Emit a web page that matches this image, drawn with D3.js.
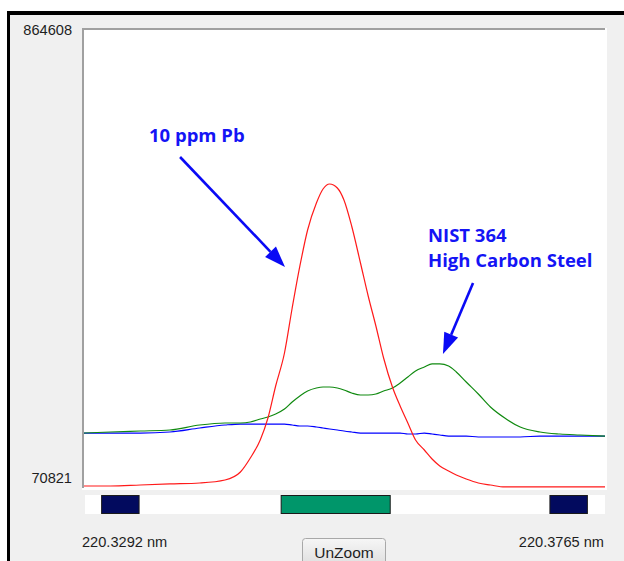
<!DOCTYPE html>
<html>
<head>
<meta charset="utf-8">
<script src="https://cdn.jsdelivr.net/npm/d3@7"></script>
<style>
    body { margin: 0; background: #ffffff; }
    svg { display: block; }
    .ui { font-family: "Liberation Sans", Arial, sans-serif; font-size: 14.6px; fill: #1e1e1e; }
    .note { font-family: "Open Sans", sans-serif; font-weight: bold; font-size: 18.5px; fill: #1414f5; }
</style>
</head>
<body>
<div id="container"></div>
<script>
// longitudes de onda (nm) y tres espectros
const wavelength = [220.3292, 220.3316, 220.3343, 220.3370, 220.3397, 220.3420, 220.3434, 220.3443,
    220.3452, 220.3459, 220.3466, 220.3474, 220.3481, 220.3488, 220.3495, 220.3503, 220.3509, 220.3515,
    220.3522, 220.3528, 220.3535, 220.3543, 220.3550, 220.3557, 220.3564, 220.3572, 220.3579, 220.3586,
    220.3593, 220.3601, 220.3608, 220.3615, 220.3623, 220.3630, 220.3639, 220.3650, 220.3661, 220.3674,
    220.3688, 220.3706, 220.3724, 220.3742, 220.3765];

const pb10ppm = [74300, 74300, 76000, 77800, 79500, 84700, 98500, 122800, 154000, 192100, 247600,
    304800, 382800, 455600, 518000, 564800, 589000, 597700, 590800, 570000, 524900, 460800, 403600,
    351600, 296100, 245900, 212900, 183500, 154000, 136700, 121100, 109000, 100300, 93400, 86400,
    79500, 76000, 72600, 72600, 72600, 72600, 72600, 72600];

const nist364 = [166100, 167900, 169600, 171300, 180000, 183500, 183500, 185200, 190400, 193900,
    199100, 207700, 219900, 230300, 238900, 244100, 245900, 245900, 244100, 240700, 235500, 232000,
    232000, 233700, 238900, 244100, 252800, 263200, 273600, 280500, 286000, 286000, 282300, 271900,
    254500, 233700, 211200, 192100, 176500, 167900, 164400, 162700, 160900];

const blank = [166100, 166100, 166100, 167900, 174800, 180000, 181700, 181700, 181700, 181700,
    181700, 181700, 180000, 178300, 178300, 176500, 174800, 173100, 171300, 169600, 167900, 166100,
    166100, 166100, 166100, 166100, 166100, 164400, 164400, 166100, 164400, 162700, 160900, 160900,
    160900, 159200, 159200, 159200, 159200, 160900, 160900, 160900, 160900];

const yMin = 70821, yMax = 864608;
const xMin = 220.3292, xMax = 220.3765;

// ventanas de fondo y de pico (nm)
const windowStart = [220.3308, 220.3471, 220.3715];
const windowEnd = [220.3342, 220.3570, 220.3749];
const windowKind = ["bg", "peak", "bg"];

const WIDTH = 624, HEIGHT = 561;
const plot = { left: 84, right: 605, top: 30, bottom: 488 };

const svg = d3.select('#container')
    .append('svg')
    .attr("width", WIDTH)
    .attr("height", HEIGHT);

// marco de la ventana
svg.append("rect").attr("x", 10).attr("y", 15).attr("width", WIDTH - 10).attr("height", HEIGHT - 15)
    .attr("fill", "#f0f0f0");
svg.append("rect").attr("x", 7).attr("y", 11).attr("width", WIDTH - 7).attr("height", 4).attr("fill", "#000");
svg.append("rect").attr("x", 7).attr("y", 11).attr("width", 3).attr("height", HEIGHT - 11).attr("fill", "#000");

// borde hundido del grafico
svg.append("rect").attr("x", plot.left - 2).attr("y", plot.top - 2)
    .attr("width", plot.right - plot.left + 4).attr("height", plot.bottom - plot.top + 4)
    .attr("fill", "#ffffff");
svg.append("rect").attr("x", plot.left - 2).attr("y", plot.top - 2)
    .attr("width", plot.right - plot.left + 2).attr("height", plot.bottom - plot.top + 2)
    .attr("fill", "#a0a0a0");
svg.append("rect").attr("x", plot.left).attr("y", plot.top)
    .attr("width", plot.right - plot.left).attr("height", plot.bottom - plot.top)
    .attr("fill", "#ffffff");

const xScale = d3.scaleLinear()
    .domain([xMin, xMax])
    .range([plot.left, plot.right]);

const yScale = d3.scaleLinear()
    .domain([yMin, yMax])
    .range([plot.bottom, plot.top]);

const container = svg.append("g");

const series = [
    { values: blank, color: "#0000ff" },
    { values: nist364, color: "#108a10" },
    { values: pb10ppm, color: "#ff1a1a" }
];

const line = d3.line()
    .x((d) => xScale(d[0]))
    .y((d) => yScale(d[1]))
    .curve(d3.curveMonotoneX);

container.selectAll(".line")
    .data(series)
    .join("path")
    .attr("class", "line")
    .attr("fill", "none")
    .attr("stroke", (d) => d.color)
    .attr("stroke-width", 1.2)
    .attr("d", (d) => line(wavelength.map((w, i) => [w, d.values[i]])));

// barra de ventanas
svg.append("rect")
    .attr("x", xScale(xMin) + 1).attr("y", 495)
    .attr("width", xScale(xMax) - xScale(xMin) - 1).attr("height", 19)
    .attr("fill", "#ffffff");

svg.selectAll(".win")
    .data(windowStart)
    .join("rect")
    .attr("class", "win")
    .attr("x", (d) => xScale(d))
    .attr("y", 495.5)
    .attr("width", (d, i) => xScale(windowEnd[i]) - xScale(d))
    .attr("height", 18)
    .attr("fill", (d, i) => windowKind[i] === "peak" ? "#00966a" : "#020a5e")
    .attr("stroke", "#1a1a1a")
    .attr("stroke-width", 1);

// etiquetas de los extremos
svg.append("text").attr("class", "ui").attr("x", 72).attr("y", 35)
    .attr("text-anchor", "end").text(yMax);
svg.append("text").attr("class", "ui").attr("x", 72).attr("y", 483)
    .attr("text-anchor", "end").text(yMin);
svg.append("text").attr("class", "ui").attr("x", 82).attr("y", 547)
    .text(`${xMin.toFixed(4)} nm`);
svg.append("text").attr("class", "ui").attr("x", 604).attr("y", 547)
    .attr("text-anchor", "end").text(`${xMax.toFixed(4)} nm`);

// boton
const grad = svg.append("defs").append("linearGradient")
    .attr("id", "btn").attr("x1", 0).attr("y1", 0).attr("x2", 0).attr("y2", 1);
grad.append("stop").attr("offset", "0%").attr("stop-color", "#f6f6f6");
grad.append("stop").attr("offset", "100%").attr("stop-color", "#dcdcdc");
svg.append("rect").attr("x", 302.5).attr("y", 538.5).attr("width", 83).attr("height", 30)
    .attr("rx", 3).attr("fill", "url(#btn)").attr("stroke", "#a8a8a8");
svg.append("text").attr("class", "ui").attr("x", 344).attr("y", 558)
    .attr("text-anchor", "middle").style("font-size", "15.5px").text("UnZoom");

// anotaciones
const notes = [
    { lines: ["10 ppm Pb"], x: 220.3351, y: 670500, from: [220.33792, 644500], to: [220.34745, 453900] },
    { lines: ["NIST 364", "High Carbon Steel"], x: 220.36043, y: 497200, from: [220.36452, 426100], to: [220.36179, 303100] }
];

notes.forEach((n) => {
    const t = svg.append("text").attr("class", "note")
        .attr("x", xScale(n.x)).attr("y", yScale(n.y));
    n.lines.forEach((l, i) => {
        t.append("tspan").attr("x", xScale(n.x)).attr("dy", i === 0 ? 0 : 25).text(l);
    });

    const x1 = xScale(n.from[0]), y1 = yScale(n.from[1]);
    const x2 = xScale(n.to[0]), y2 = yScale(n.to[1]);
    const ang = Math.atan2(y2 - y1, x2 - x1);
    const headLen = 21, headW = 7.5;
    const bx = x2 - headLen * Math.cos(ang), by = y2 - headLen * Math.sin(ang);
    svg.append("line")
        .attr("x1", x1).attr("y1", y1).attr("x2", bx).attr("y2", by)
        .attr("stroke", "#0a0af5").attr("stroke-width", 2.6);
    svg.append("path")
        .attr("d", `M${x2},${y2} L${bx + headW * Math.sin(ang)},${by - headW * Math.cos(ang)} ` +
                   `L${bx - headW * Math.sin(ang)},${by + headW * Math.cos(ang)} Z`)
        .attr("fill", "#0a0af5");
});
</script>
</body>
</html>
